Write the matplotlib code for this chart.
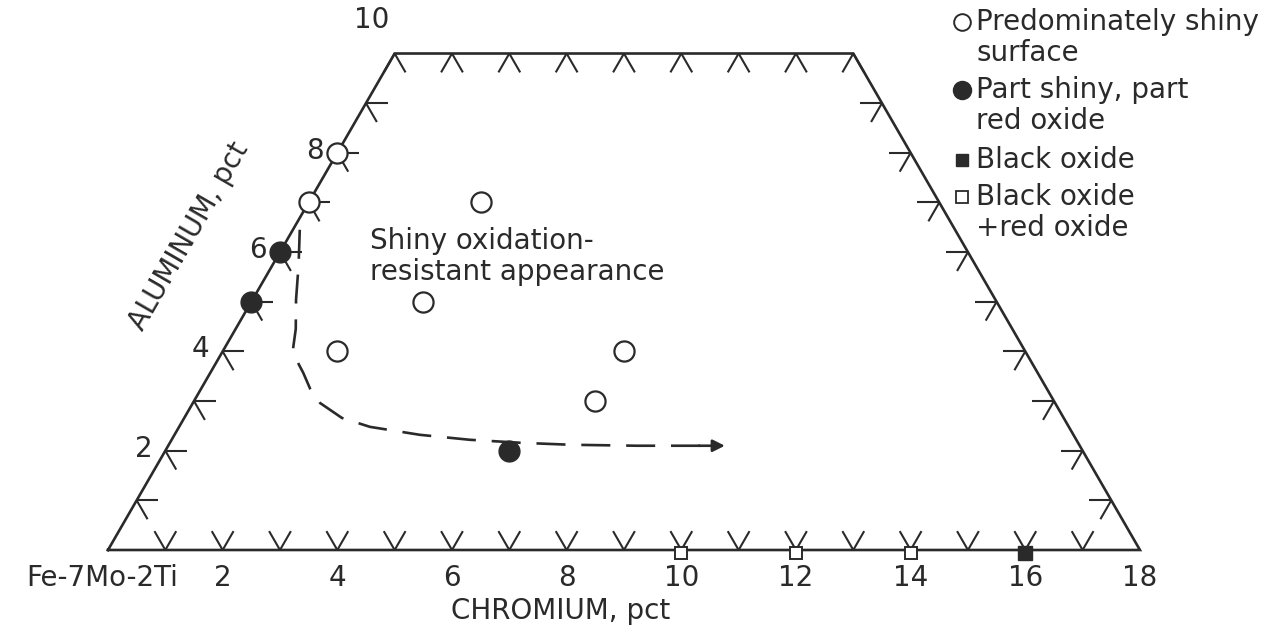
import numpy as np
import matplotlib
matplotlib.use("Agg")
import matplotlib.pyplot as plt

plt.rcParams['font.family'] = ['DejaVu Sans']

# ---- data (Cr pct, Al pct) ----
open_cr = [0, 0, 3, 3, 2, 7, 7]
open_al = [8, 7, 7, 5, 4, 4, 3]
filled_cr = [0, 0, 6]
filled_al = [6, 5, 2]
osq_cr = [10, 12, 14]
osq_al = [0, 0, 0]
fsq_cr = [16]
fsq_al = [0]

# dashed boundary curve (Cr, Al)
curve_cr = [0.12, 0.45, 0.76, 1.05, 1.21, 1.40, 1.62, 1.90, 2.22, 2.75, 3.33, 4.28, 5.20, 6.11, 7.00, 8.18, 9.71]
curve_al = [6.45, 5.75, 5.04, 4.45, 4.03, 3.80, 3.57, 3.25, 2.96, 2.66, 2.48, 2.32, 2.22, 2.16, 2.12, 2.10, 2.10]

cr_ticklabels = ['2', '4', '6', '8', '10', '12', '14', '16', '18']
cr_tickvals = [2, 4, 6, 8, 10, 12, 14, 16, 18]
al_tickvals = [2, 4, 6, 8, 10]
al_ticklabels = ['2', '4', '6', '8', '10']

legend_labels = [["Predominately shiny", "surface"],
                 ["Part shiny, part", "red oxide"],
                 ["Black oxide"],
                 ["Black oxide", "+red oxide"]]

S3 = np.sqrt(3) / 2


def xy(cr, al):
    cr = np.asarray(cr, float)
    al = np.asarray(al, float)
    return cr + 0.5 * al, S3 * al


W, H = 1284, 626
fig = plt.figure(figsize=(W / 100, H / 100), dpi=100)
ax = fig.add_axes([0, 0, 1, 1])
scale = 57.33
x0, y0 = 108, 550
ax.set_xlim(-x0 / scale, (W - x0) / scale)
ax.set_ylim(-(H - y0) / scale, y0 / scale)
ax.axis('off')

LW = 1.9
FS = 20
col = '#2a2a2a'

# boundary trapezoid
bx, by = xy([0, 18, 8, 0, 0], [0, 0, 10, 10, 0])
ax.plot(bx, by, color=col, lw=LW, solid_joinstyle='miter', zorder=2)

# ticks
L = 0.38
def tick(cr, al, dirs):
    px, py = xy(cr, al)
    for dx, dy in dirs:
        ax.plot([px, px + L * dx], [py, py + L * dy], color=col, lw=1.5, zorder=2,
                solid_capstyle='butt')

for c in range(1, 18):
    tick(c, 0, [(-0.5, S3), (0.5, S3)])
for c in range(0, 9):
    tick(c, 10, [(-0.5, -S3), (0.5, -S3)])
for a in range(1, 10):
    tick(0, a, [(1, 0), (0.5, -S3)])
for a in range(1, 10):
    tick(18 - a, a, [(-1, 0), (-0.5, -S3)])

# dashed curve with arrow
cx, cy = xy(curve_cr, curve_al)
ax.plot(cx[:-1].tolist() + [cx[-1] - 0.15], cy[:-1].tolist() + [cy[-1]], color=col,
        lw=1.9, dashes=(11, 6), zorder=2)
ax.annotate('', xy=(cx[-1], cy[-1]), xytext=(cx[-1] - 0.45, cy[-1]),
            arrowprops=dict(arrowstyle='-|>', color=col, lw=1.9,
                            mutation_scale=18, shrinkA=0, shrinkB=0))

# data points
ox, oy = xy(open_cr, open_al)
ax.plot(ox, oy, 'o', ms=14.5, mfc='white', mec=col, mew=1.6, ls='none', zorder=4)
fx, fy = xy(filled_cr, filled_al)
ax.plot(fx, fy, 'o', ms=15, mfc=col, mec=col, ls='none', zorder=4)
sx, sy = xy(osq_cr, osq_al)
ax.plot(sx, sy - 0.05, 's', ms=9, mfc='white', mec=col, mew=1.4, ls='none', zorder=4)
qx, qy = xy(fsq_cr, fsq_al)
ax.plot(qx, qy - 0.05, 's', ms=10, mfc=col, mec=col, ls='none', zorder=4)

# Chromium tick labels
for v, t in zip(cr_tickvals, cr_ticklabels):
    px, py = xy(v, 0)
    ax.annotate(t, (px, py), xytext=(0, -28), textcoords='offset pixels',
                ha='center', va='center', fontsize=FS, color=col)
ax.annotate('Fe-7Mo-2Ti', xy(0, 0), xytext=(70, -28), textcoords='offset pixels',
            ha='right', va='center', fontsize=FS, color=col)
ax.annotate('CHROMIUM, pct', xy(8, 0), xytext=(-6, -61), textcoords='offset pixels',
            ha='center', va='center', fontsize=FS, color=col)

# Aluminum tick labels
for v, t in zip(al_tickvals, al_ticklabels):
    px, py = xy(0, v)
    off = (-22, 2) if v < 10 else (-23, 34)
    ax.annotate(t, (px, py), xytext=off, textcoords='offset pixels',
                ha='center', va='center', fontsize=FS, color=col)
ax.annotate('ALUMINUM, pct', xy(0, 5), xytext=(-62, 66), textcoords='offset pixels',
            ha='center', va='center', fontsize=FS, color=col, rotation=60,
            rotation_mode='anchor')

# inner annotation
ax.text(370 / W, 1 - 241 / H, 'Shiny oxidation-', transform=fig.transFigure,
        ha='left', va='center', fontsize=FS, color=col)
ax.text(370 / W, 1 - 272 / H, 'resistant appearance', transform=fig.transFigure,
        ha='left', va='center', fontsize=FS, color=col)

# legend (manual)
leg_marker = [dict(marker='o', ms=12, mfc='white', mec=col, mew=1.4),
              dict(marker='o', ms=13, mfc=col, mec=col),
              dict(marker='s', ms=9, mfc=col, mec=col),
              dict(marker='s', ms=8, mfc='white', mec=col, mew=1.3)]
leg_y = [22, 90, 160, 197]
line_gap = 31
for ystart, lines, mk in zip(leg_y, legend_labels, leg_marker):
    ax.plot([962 / W], [1 - ystart / H], transform=fig.transFigure, ls='none',
            clip_on=False, **mk)
    for i, ln in enumerate(lines):
        ax.text(976 / W, 1 - (ystart + i * line_gap) / H, ln, transform=fig.transFigure,
                ha='left', va='center', fontsize=FS, color=col)

fig.savefig('out.png', dpi=100, facecolor='white')
